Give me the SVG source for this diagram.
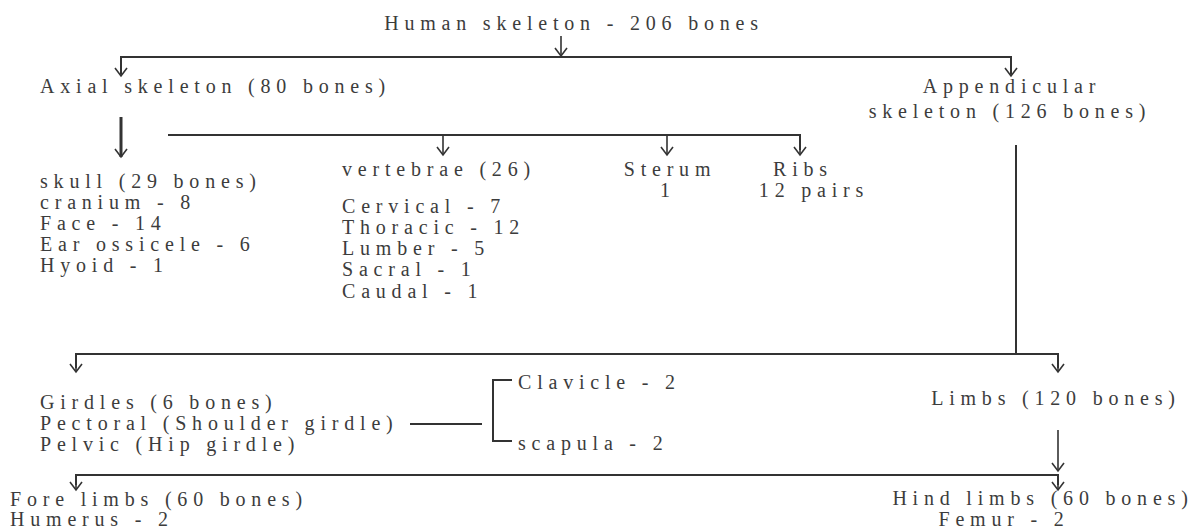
<svg xmlns="http://www.w3.org/2000/svg" width="1197" height="529" viewBox="0 0 1197 529">
<defs>
<marker id="ah" viewBox="-10 -8 12 16" markerWidth="12" markerHeight="16" refX="0" refY="0" markerUnits="userSpaceOnUse" orient="auto">
<path d="M-8,-6 L0,0 L-8,6" fill="none" stroke="#333" stroke-width="1.6"/>
</marker>
<style>
text{font-family:"Liberation Serif","Times New Roman",serif;font-size:20px;fill:#3c3c3c;letter-spacing:5.8px}
.m{text-anchor:middle}
.ln{fill:none;stroke:#333;stroke-width:2}
.ar{fill:none;stroke:#333;stroke-width:1.6}
</style>
</defs>
<rect width="1197" height="529" fill="#fff"/>
<g id="connectors">
<line class="ar" x1="561" y1="36" x2="561" y2="56" marker-end="url(#ah)"/>
<polyline class="ln" points="121,74 121,57 1011,57 1011,74"/>
<path class="ar" d="M121,66 L121,76" marker-end="url(#ah)"/>
<path class="ar" d="M1011,66 L1011,76" marker-end="url(#ah)"/>
<line x1="121" y1="117" x2="121" y2="157" stroke="#333" stroke-width="3" marker-end="url(#ah)"/>
<polyline class="ln" points="168,135 800,135 800,150"/>
<path class="ar" d="M800,145 L800,155" marker-end="url(#ah)"/>
<path class="ar" d="M443,135 L443,155" marker-end="url(#ah)"/>
<path class="ar" d="M667,135 L667,155" marker-end="url(#ah)"/>
<line class="ln" x1="1016" y1="145" x2="1016" y2="354"/>
<polyline class="ln" points="76,368 76,354 1058,354 1058,368"/>
<path class="ar" d="M76,362 L76,372" marker-end="url(#ah)"/>
<path class="ar" d="M1058,362 L1058,372" marker-end="url(#ah)"/>
<line class="ln" x1="410" y1="424" x2="482" y2="424"/>
<polyline class="ln" points="512,380 493,380 493,441 512,441"/>
<line class="ar" x1="1058" y1="430" x2="1058" y2="471" marker-end="url(#ah)"/>
<polyline class="ln" points="76,485 76,475 1058,475 1058,485"/>
<path class="ar" d="M76,480 L76,490" marker-end="url(#ah)"/>
<path class="ar" d="M1058,480 L1058,490" marker-end="url(#ah)"/>
</g>
<g id="human"><text class="m" x="574" y="30">Human skeleton - 206 bones</text></g>
<g id="axial"><text x="40" y="93">Axial skeleton (80 bones)</text></g>
<g id="appendicular"><text class="m" x="1012" y="93">Appendicular</text><text class="m" x="1010" y="118">skeleton (126 bones)</text></g>
<g id="skull"><text x="40" y="188">skull (29 bones)</text><text x="40" y="209">cranium - 8</text><text x="40" y="230">Face - 14</text><text x="40" y="251">Ear ossicele - 6</text><text x="40" y="272">Hyoid - 1</text></g>
<g id="vertebrae"><text x="342" y="176">vertebrae (26)</text><text x="342" y="213">Cervical - 7</text><text x="342" y="234">Thoracic - 12</text><text x="342" y="255">Lumber - 5</text><text x="342" y="276">Sacral - 1</text><text x="342" y="298">Caudal - 1</text></g>
<g id="sterum"><text class="m" x="670" y="176">Sterum</text><text class="m" x="668" y="197">1</text></g>
<g id="ribs"><text class="m" x="803" y="176">Ribs</text><text class="m" x="814" y="197">12 pairs</text></g>
<g id="girdles"><text x="40" y="409">Girdles (6 bones)</text><text x="40" y="430">Pectoral (Shoulder girdle)</text><text x="40" y="451">Pelvic (Hip girdle)</text></g>
<g id="clavicle"><text x="518" y="389">Clavicle - 2</text></g>
<g id="scapula"><text x="518" y="450">scapula - 2</text></g>
<g id="limbs"><text class="m" x="1056" y="405">Limbs (120 bones)</text></g>
<g id="forelimbs"><text x="10" y="506">Fore limbs (60 bones)</text><text x="10" y="526">Humerus - 2</text></g>
<g id="hindlimbs"><text class="m" x="1043" y="505">Hind limbs (60 bones)</text><text class="m" x="1004" y="526">Femur - 2</text></g>
</svg>
